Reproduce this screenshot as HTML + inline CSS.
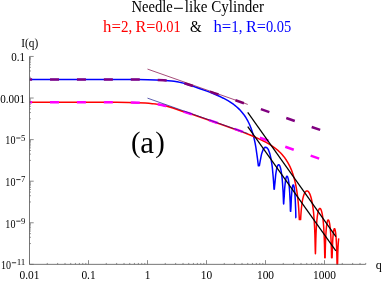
<!DOCTYPE html>
<html><head><meta charset="utf-8"><title>Needle-like Cylinder</title>
<style>
html,body{margin:0;padding:0;background:#fff;}
body{width:382px;height:281px;overflow:hidden;font-family:"Liberation Serif",serif;}
svg{display:block;will-change:transform;}
</style></head><body>
<svg width="382" height="281" viewBox="0 0 382 281">
<rect width="382" height="281" fill="#fff"/>
<g fill="none" stroke-linejoin="round">
<path d="M29.50 79.42L109.81 79.43L137.34 79.54L147.66 79.68L155.69 79.90L162.58 80.23L168.31 80.67L171.76 81.04L174.05 81.34L178.64 82.11L180.93 82.58L183.23 83.13L185.52 83.74L187.82 84.43L191.26 85.59L199.29 88.52L206.17 90.86L209.61 92.13L218.79 95.99L221.09 97.05L223.38 98.21L227.97 100.69L229.12 101.38L231.41 102.87L233.71 104.47L234.85 105.35L236.51 106.72L238.34 108.35L239.61 109.59L240.86 110.93L242.36 112.68L243.54 114.16L244.67 115.75L245.94 117.70L246.91 119.31L247.81 120.96L248.83 123.01L249.76 125.03L250.47 126.75L251.21 128.73L252.09 131.28L252.81 133.56L253.43 135.81L254.08 138.44L255.17 143.38L255.95 147.83L257.41 158.11L258.38 165.80L259.35 165.80L259.38 165.73L260.00 162.11L261.18 155.98L261.57 154.17L261.92 152.91L262.34 151.70L263.05 149.87L263.51 148.93L264.00 148.27L264.79 147.52L265.23 147.27L265.66 147.23L266.40 147.40L266.87 147.68L267.51 148.43L268.18 149.42L268.65 150.40L269.34 152.17L269.71 153.28L270.08 154.65L271.03 158.82L271.86 164.08L272.21 166.61L272.46 168.91L273.29 178.29L273.57 181.96L274.01 189.20L274.31 189.20L274.34 189.13L274.64 185.80L275.05 181.92L275.68 174.94L276.00 172.64L276.76 168.33L277.02 167.42L277.57 165.85L277.78 165.39L278.01 165.09L278.54 164.70L278.80 164.66L279.10 164.89L279.65 165.57L279.93 166.22L280.49 167.91L280.95 170.01L281.55 173.51L282.22 179.42L282.50 182.71L283.14 192.82L283.51 202.41L283.61 203.90L283.68 203.90L283.70 203.81L283.95 199.69L284.23 196.47L284.62 189.25L284.83 186.60L285.50 180.64L286.08 177.82L286.34 177.04L286.77 176.31L286.94 176.17L287.08 176.22L287.44 176.55L287.63 176.85L288.28 179.13L288.90 183.23L289.46 189.22L289.66 192.28L290.20 202.83L290.43 211.30L290.68 211.30L290.71 211.07L291.03 206.20L291.38 197.50L292.00 189.76L292.44 186.81L292.62 186.01L292.97 185.09L293.09 184.89L293.20 184.89L293.60 185.19L293.73 185.59L294.17 187.43L294.61 190.80L294.77 192.56L295.14 197.59L295.28 200.28L295.70 210.20L295.86 217.80L296.09 217.80" stroke="#00f" stroke-width="1.5"/>
<path d="M29.50 102.23L101.78 102.25L116.69 102.32L128.16 102.45L137.34 102.67L145.37 103.06L148.81 103.31L152.25 103.63L155.69 104.04L157.99 104.37L161.43 104.97L163.72 105.45L166.02 106.00L169.46 106.95L172.90 108.05L182.08 111.21L191.26 114.06L196.99 116.05L202.73 117.95L222.23 124.71L237.58 130.23L243.90 132.60L248.84 134.53L253.19 136.30L256.78 137.85L260.06 139.34L262.99 140.76L265.67 142.15L268.36 143.65L270.69 145.07L272.94 146.56L274.96 148.02L276.90 149.55L278.75 151.17L280.45 152.81L282.07 154.53L283.65 156.40L285.11 158.32L286.46 160.29L287.72 162.34L288.95 164.57L290.09 166.90L291.16 169.34L292.15 171.88L293.06 174.52L293.92 177.38L294.72 180.35L295.43 183.40L296.06 186.51L296.69 190.13L297.20 193.57L297.68 197.31L298.07 201.00L298.43 204.94L298.79 209.73L299.34 219.60L300.60 219.60L300.88 214.94L301.20 210.74L301.55 207.01L301.95 203.77L302.42 200.72L302.89 198.34L303.45 196.16L304.08 194.27L304.67 192.95L305.34 191.90L305.70 191.51L306.02 191.25L306.37 191.05L306.73 190.95L307.08 190.94L307.44 191.02L307.79 191.20L308.15 191.46L308.51 191.82L308.86 192.28L309.53 193.42L310.16 194.85L310.80 196.68L311.39 198.82L311.90 201.09L312.38 203.60L312.81 206.35L313.21 209.34L313.60 212.95L314.19 220.18L314.63 228.01L314.91 235.22L315.30 250.89L315.42 253.67L315.54 251.27L315.81 240.19L316.05 233.28L316.37 226.89L316.80 220.99L317.36 216.04L317.67 214.01L317.99 212.39L318.38 210.83L318.74 209.80L319.17 208.95L319.57 208.53L319.81 208.43L320.08 208.45L320.32 208.59L320.56 208.83L320.83 209.26L321.07 209.76L321.54 211.12L321.98 212.85L322.37 214.90L322.77 217.51L323.12 220.48L323.44 223.78L323.72 227.37L324.15 235.19L324.47 244.08L324.78 257.70L325.14 257.70L325.34 247.99L325.53 241.56L325.81 235.38L326.17 230.05L326.52 226.39L326.96 223.34L327.19 222.16L327.43 221.26L327.67 220.61L327.91 220.19L328.06 220.03L328.22 219.97L328.38 219.99L328.54 220.11L328.85 220.64L329.17 221.55L329.49 222.90L329.76 224.47L330.28 228.63L330.71 233.96L331.07 240.45L331.34 248.04L331.58 257.70L332.13 257.70L332.37 248.97L332.61 242.85L332.88 238.01L333.24 233.84L333.56 231.39L333.91 229.65L334.11 229.07L334.31 228.74L334.46 228.65L334.66 228.75L334.86 229.08L335.06 229.66L335.41 231.36L335.73 233.71L336.05 237.06L336.36 241.84L336.64 247.95L336.87 255.87L337.03 264.09L337.07 264.35L337.51 264.35L337.55 264.23L337.78 253.67L338.02 247.40L338.34 242.08L338.69 238.43" stroke="#f00" stroke-width="1.5"/>
<path d="M29.50 79.42L116.32 79.44L133.10 79.50L144.93 79.63L155.79 79.89L163.68 80.29L167.63 80.59L170.59 80.88L174.53 81.38L177.49 81.85L180.45 82.42L182.43 82.86L184.40 83.35L187.36 84.19L191.31 85.46L199.20 88.19L207.09 90.63L210.05 91.60L214.98 93.32L219.92 94.93L228.80 97.97L250.50 105.48L324.50 131.46" stroke="#800080" stroke-width="2.5" stroke-dasharray="9 17.92" stroke-dashoffset="6.4"/>
<path d="M29.50 102.23L104.48 102.26L120.27 102.35L131.12 102.50L140.99 102.82L144.93 103.03L148.88 103.31L152.83 103.69L155.79 104.05L158.75 104.49L161.71 105.02L165.65 105.91L167.63 106.42L170.59 107.30L173.55 108.26L181.44 111.00L190.32 113.75L197.23 116.12L203.15 118.07L221.89 124.52L245.57 132.77L324.50 160.52" stroke="#f0f" stroke-width="2.5" stroke-dasharray="9 17.92" stroke-dashoffset="6.4"/>
<path d="M147.50 69.09L247.74 104.41" stroke="#800040" stroke-width="0.7"/>
<path d="M147.50 98.15L247.74 133.47" stroke="#15158c" stroke-width="0.7"/>
<path d="M247.74 126.60L335.89 250.86" stroke="#000" stroke-width="1.25"/>
<path d="M247.74 112.47L335.89 236.72" stroke="#000" stroke-width="1.25"/>
</g>
<path d="M29.50 56.45V264.35H365.74" fill="none" stroke="#666" stroke-width="0.9"/>
<path d="M29.50 264.35v-4.2M47.26 264.35v-1.4M57.65 264.35v-1.4M65.02 264.35v-1.4M70.74 264.35v-1.4M75.41 264.35v-1.4M79.36 264.35v-1.4M82.78 264.35v-1.4M85.80 264.35v-1.4M88.50 264.35v-4.2M106.26 264.35v-1.4M116.65 264.35v-1.4M124.02 264.35v-1.4M129.74 264.35v-1.4M134.41 264.35v-1.4M138.36 264.35v-1.4M141.78 264.35v-1.4M144.80 264.35v-1.4M147.50 264.35v-4.2M165.26 264.35v-1.4M175.65 264.35v-1.4M183.02 264.35v-1.4M188.74 264.35v-1.4M193.41 264.35v-1.4M197.36 264.35v-1.4M200.78 264.35v-1.4M203.80 264.35v-1.4M206.50 264.35v-4.2M224.26 264.35v-1.4M234.65 264.35v-1.4M242.02 264.35v-1.4M247.74 264.35v-1.4M252.41 264.35v-1.4M256.36 264.35v-1.4M259.78 264.35v-1.4M262.80 264.35v-1.4M265.50 264.35v-4.2M283.26 264.35v-1.4M293.65 264.35v-1.4M301.02 264.35v-1.4M306.74 264.35v-1.4M311.41 264.35v-1.4M315.36 264.35v-1.4M318.78 264.35v-1.4M321.80 264.35v-1.4M324.50 264.35v-4.2M342.26 264.35v-1.4M352.65 264.35v-1.4M360.02 264.35v-1.4M365.74 264.35v-1.4M29.50 56.45h4.2M29.50 98.03h4.2M29.50 139.61h4.2M29.50 181.19h4.2M29.50 222.77h4.2M29.50 264.35h4.2M29.50 77.24h1.4M29.50 70.98h1.4M29.50 67.32h1.4M29.50 64.72h1.4M29.50 62.71h1.4M29.50 61.06h1.4M29.50 59.67h1.4M29.50 58.46h1.4M29.50 57.40h1.4M29.50 118.82h1.4M29.50 112.56h1.4M29.50 108.90h1.4M29.50 106.30h1.4M29.50 104.29h1.4M29.50 102.64h1.4M29.50 101.25h1.4M29.50 100.04h1.4M29.50 98.98h1.4M29.50 160.40h1.4M29.50 154.14h1.4M29.50 150.48h1.4M29.50 147.88h1.4M29.50 145.87h1.4M29.50 144.22h1.4M29.50 142.83h1.4M29.50 141.62h1.4M29.50 140.56h1.4M29.50 201.98h1.4M29.50 195.72h1.4M29.50 192.06h1.4M29.50 189.46h1.4M29.50 187.45h1.4M29.50 185.80h1.4M29.50 184.41h1.4M29.50 183.20h1.4M29.50 182.14h1.4M29.50 243.56h1.4M29.50 237.30h1.4M29.50 233.64h1.4M29.50 231.04h1.4M29.50 229.03h1.4M29.50 227.38h1.4M29.50 225.99h1.4M29.50 224.78h1.4M29.50 223.72h1.4" fill="none" stroke="#666" stroke-width="0.75"/>
<text x="19.52" y="278.80" font-size="12" textLength="19.95" lengthAdjust="spacingAndGlyphs" font-family="Liberation Serif, serif">0.01</text>
<text x="81.38" y="278.80" font-size="12" textLength="14.25" lengthAdjust="spacingAndGlyphs" font-family="Liberation Serif, serif">0.1</text>
<text x="144.65" y="278.80" font-size="12" textLength="5.70" lengthAdjust="spacingAndGlyphs" font-family="Liberation Serif, serif">1</text>
<text x="200.80" y="278.80" font-size="12" textLength="11.40" lengthAdjust="spacingAndGlyphs" font-family="Liberation Serif, serif">10</text>
<text x="256.95" y="278.80" font-size="12" textLength="17.10" lengthAdjust="spacingAndGlyphs" font-family="Liberation Serif, serif">100</text>
<text x="313.10" y="278.80" font-size="12" textLength="22.80" lengthAdjust="spacingAndGlyphs" font-family="Liberation Serif, serif">1000</text>
<text x="11.20" y="61.05" font-size="12" textLength="13.80" lengthAdjust="spacingAndGlyphs" font-family="Liberation Serif, serif">0.1</text>
<text x="0.16" y="102.63" font-size="12" textLength="24.84" lengthAdjust="spacingAndGlyphs" font-family="Liberation Serif, serif">0.001</text>
<text x="21.03" y="140.71" font-size="9" textLength="4.37" lengthAdjust="spacingAndGlyphs" font-family="Liberation Serif, serif">5</text>
<path d="M16.23 138.01H20.53" stroke="#000" stroke-width="0.8"/>
<text x="5.35" y="144.41" font-size="12" textLength="10.08" lengthAdjust="spacingAndGlyphs" font-family="Liberation Serif, serif">10</text>
<text x="21.03" y="182.29" font-size="9" textLength="4.37" lengthAdjust="spacingAndGlyphs" font-family="Liberation Serif, serif">7</text>
<path d="M16.23 179.59H20.53" stroke="#000" stroke-width="0.8"/>
<text x="5.35" y="185.99" font-size="12" textLength="10.08" lengthAdjust="spacingAndGlyphs" font-family="Liberation Serif, serif">10</text>
<text x="21.03" y="223.87" font-size="9" textLength="4.37" lengthAdjust="spacingAndGlyphs" font-family="Liberation Serif, serif">9</text>
<path d="M16.23 221.17H20.53" stroke="#000" stroke-width="0.8"/>
<text x="5.35" y="227.57" font-size="12" textLength="10.08" lengthAdjust="spacingAndGlyphs" font-family="Liberation Serif, serif">10</text>
<text x="16.67" y="265.45" font-size="9" textLength="8.73" lengthAdjust="spacingAndGlyphs" font-family="Liberation Serif, serif">11</text>
<path d="M11.87 262.75H16.17" stroke="#000" stroke-width="0.8"/>
<text x="0.99" y="269.15" font-size="12" textLength="10.08" lengthAdjust="spacingAndGlyphs" font-family="Liberation Serif, serif">10</text>
<text x="21.3" y="46.9" font-size="12" textLength="16.9" lengthAdjust="spacingAndGlyphs" font-family="Liberation Serif, serif">I(q)</text>
<text x="378.8" y="268.5" font-size="12" text-anchor="middle" font-family="Liberation Serif, serif">q</text>
<text x="131.5" y="12.4" font-size="16" textLength="41.3" lengthAdjust="spacingAndGlyphs" font-family="Liberation Serif, serif">Needle</text>
<path d="M174.0 8.3H182.9" stroke="#000" stroke-width="1.0"/>
<text x="184.8" y="12.4" font-size="16" textLength="79.2" lengthAdjust="spacingAndGlyphs" font-family="Liberation Serif, serif">like Cylinder</text>
<text x="103.10" y="31.6" font-size="16" fill="#f00" textLength="17.8" lengthAdjust="spacingAndGlyphs" font-family="Liberation Serif, serif">h=</text>
<text x="120.90" y="31.6" font-size="16" fill="#f00" textLength="11.25" lengthAdjust="spacingAndGlyphs" font-family="Liberation Serif, serif">2,</text>
<text x="135.60" y="31.6" font-size="16" fill="#f00" textLength="19.9" lengthAdjust="spacingAndGlyphs" font-family="Liberation Serif, serif">R=</text>
<text x="155.50" y="31.6" font-size="16" fill="#f00" textLength="25.3" lengthAdjust="spacingAndGlyphs" font-family="Liberation Serif, serif">0.01</text>
<text x="213.50" y="31.6" font-size="16" fill="#00f" textLength="17.8" lengthAdjust="spacingAndGlyphs" font-family="Liberation Serif, serif">h=</text>
<text x="231.30" y="31.6" font-size="16" fill="#00f" textLength="11.25" lengthAdjust="spacingAndGlyphs" font-family="Liberation Serif, serif">1,</text>
<text x="246.00" y="31.6" font-size="16" fill="#00f" textLength="19.9" lengthAdjust="spacingAndGlyphs" font-family="Liberation Serif, serif">R=</text>
<text x="265.90" y="31.6" font-size="16" fill="#00f" textLength="25.3" lengthAdjust="spacingAndGlyphs" font-family="Liberation Serif, serif">0.05</text>
<text x="190.0" y="31.6" font-size="16" textLength="11.7" lengthAdjust="spacingAndGlyphs" font-family="Liberation Serif, serif">&amp;</text>
<text x="131.0" y="151.9" font-size="28.7" font-family="Liberation Serif, serif">(</text>
<text x="140.3" y="152.6" font-size="31" font-family="Liberation Serif, serif">a</text>
<text x="155.3" y="151.9" font-size="28.7" font-family="Liberation Serif, serif">)</text>
</svg>
</body></html>
